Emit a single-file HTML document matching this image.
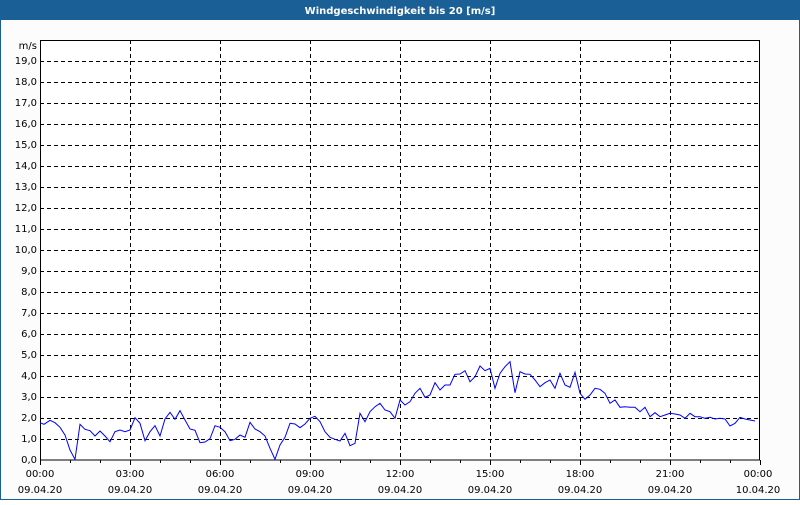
<!DOCTYPE html>
<html><head><style>
body{margin:0;background:#fff;}
svg text{font-family:"DejaVu Sans","Liberation Sans",sans-serif;font-size:10px;fill:#000;}
</style></head><body>
<svg width="800" height="500" viewBox="0 0 800 500" xmlns="http://www.w3.org/2000/svg">
<rect x="0" y="0" width="800" height="500" fill="#fcfcfc"/>
<rect x="0.5" y="0.5" width="799" height="499" fill="none" stroke="#1a5f96"/>
<rect x="0" y="0" width="800" height="20" fill="#1a5f96"/>
<text x="400" y="14" text-anchor="middle" style="fill:#fff;font-weight:bold;font-size:10px">Windgeschwindigkeit bis 20 [m/s]</text>
<rect x="40" y="40" width="720" height="420" fill="#fff"/>
<g stroke="#000" stroke-dasharray="4,3" stroke-width="1">
<path d="M40 439.5H760M40 418.5H760M40 397.5H760M40 376.5H760M40 355.5H760M40 334.5H760M40 313.5H760M40 292.5H760M40 271.5H760M40 250.5H760M40 229.5H760M40 208.5H760M40 187.5H760M40 166.5H760M40 145.5H760M40 124.5H760M40 103.5H760M40 82.5H760M40 61.5H760"/>
<path d="M130.5 40V460M220.5 40V460M310.5 40V460M400.5 40V460M490.5 40V460M580.5 40V460M670.5 40V460"/>
</g>
<rect x="40.5" y="40.5" width="719" height="419.5" fill="none" stroke="#000"/>
<g stroke="#000"><path d="M40.5 460v5M70.5 460v3M100.5 460v3M130.5 460v5M160.5 460v3M190.5 460v3M220.5 460v5M250.5 460v3M280.5 460v3M310.5 460v5M340.5 460v3M370.5 460v3M400.5 460v5M430.5 460v3M460.5 460v3M490.5 460v5M520.5 460v3M550.5 460v3M580.5 460v5M610.5 460v3M640.5 460v3M670.5 460v5M700.5 460v3M730.5 460v3M760.5 460v5"/></g>
<g text-anchor="end">
<text x="37" y="49">m/s</text>
<text x="37" y="64">19,0</text><text x="37" y="85">18,0</text><text x="37" y="106">17,0</text><text x="37" y="127">16,0</text><text x="37" y="148">15,0</text><text x="37" y="169">14,0</text><text x="37" y="190">13,0</text><text x="37" y="211">12,0</text><text x="37" y="232">11,0</text><text x="37" y="253">10,0</text><text x="37" y="274">9,0</text><text x="37" y="295">8,0</text><text x="37" y="316">7,0</text><text x="37" y="337">6,0</text><text x="37" y="358">5,0</text><text x="37" y="379">4,0</text><text x="37" y="400">3,0</text><text x="37" y="421">2,0</text><text x="37" y="442">1,0</text><text x="37" y="463">0,0</text>
</g>
<g text-anchor="middle">
<text x="40" y="477">00:00</text><text x="40" y="493">09.04.20</text>
<text x="130" y="477">03:00</text><text x="130" y="493">09.04.20</text>
<text x="220" y="477">06:00</text><text x="220" y="493">09.04.20</text>
<text x="310" y="477">09:00</text><text x="310" y="493">09.04.20</text>
<text x="400" y="477">12:00</text><text x="400" y="493">09.04.20</text>
<text x="490" y="477">15:00</text><text x="490" y="493">09.04.20</text>
<text x="580" y="477">18:00</text><text x="580" y="493">09.04.20</text>
<text x="670" y="477">21:00</text><text x="670" y="493">09.04.20</text>
<text x="758" y="477">00:00</text><text x="758" y="493">10.04.20</text>
</g>
<polyline fill="none" stroke="#0000ff" stroke-width="1" points="40,422.7 44,424.3 50,420.3 55,422.7 60,427.3 65,435 70,450 75,459.3 80,424.3 85,429.3 90,430.7 95,436 100,431 105,436 110,441.7 115,431.7 120,430 125,431.7 130,430 135,417.7 140,423.3 145,440.7 150,431.7 155,425.7 160,436 165,419 170,412.3 175,419.3 180,410.7 185,420 190,429 195,430.3 200,442.7 205,442 210,438.7 215,425.7 220,427.3 225,431.7 230,440.7 235,439.3 240,435 245,437.3 250,422.3 255,429 260,431.7 265,436 270,448.3 275,459.3 280,445 285,437.3 290,423.3 295,424 300,427.7 305,424 310,418.3 315,416.3 320,421.7 325,431.7 330,437.3 335,439.3 340,441 345,433.3 350,445.7 355,443.3 360,413.3 365,421.7 370,411.7 375,406.7 380,403.3 385,410 390,411.7 395,418.3 400,400 405,405 410,401.7 415,393.3 420,388.3 425,397.3 430,395 435,382.7 440,390 445,385 450,385 455,374.3 460,374 465,370.7 470,381.7 475,376.7 480,366 485,370.7 490,368.3 495,388.3 500,373.3 505,366.7 510,361.7 515,392.7 520,371.7 525,374 530,374.3 535,380 540,386.7 545,382.7 550,380 555,388.3 560,373.3 565,385 570,387.3 575,372.3 580,393.3 585,399.3 590,395 595,388.3 600,389.3 605,393.3 610,403.3 615,400 620,407.3 625,406.7 630,407.3 635,407.3 640,411.7 645,407.3 650,416.7 655,412.7 660,416.7 665,415 670,413.3 675,414 680,415 685,418.3 690,413.3 695,416.7 700,416.7 705,418.3 710,417.3 715,419 720,418.3 725,419 730,426 735,423.3 740,417.3 745,419 750,420 755,421"/>
</svg>
</body></html>
